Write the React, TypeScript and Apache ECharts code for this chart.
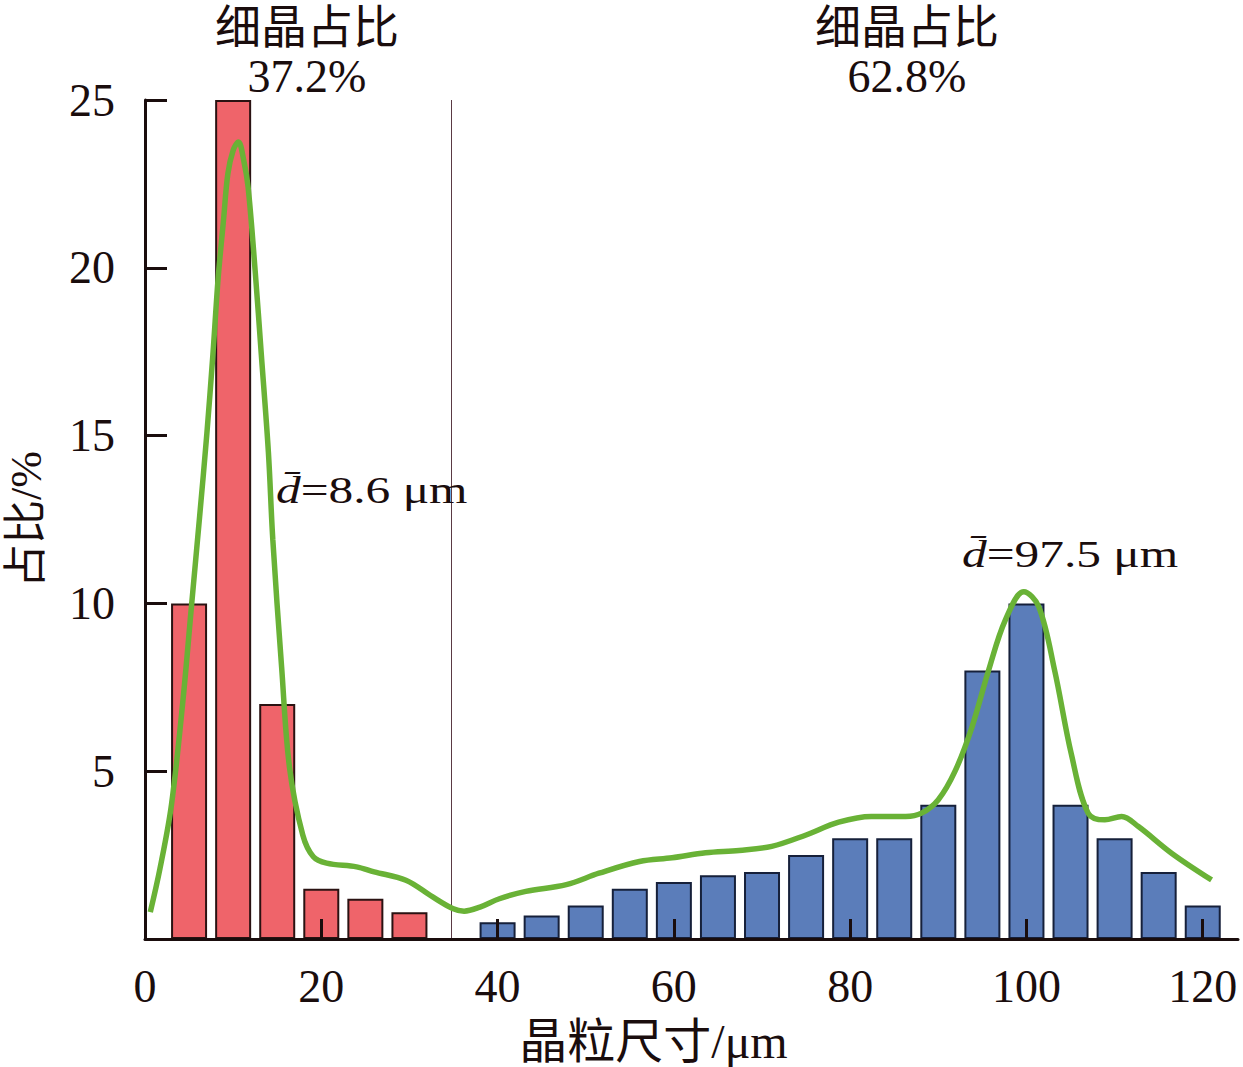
import { useEffect, useRef } from 'react'
import * as echarts from 'echarts'

// 晶粒尺寸分布数据
const fineBins = [5, 10, 15, 20, 25, 30]
const fineShare = [10, 25, 7, 1.5, 1.2, 0.8]
const coarseBins = [40, 45, 50, 55, 60, 65, 70, 75, 80, 85, 90, 95, 100, 105, 110, 115, 120]
const coarseShare = [0.5, 0.7, 1.0, 1.5, 1.7, 1.9, 2.0, 2.5, 3.0, 3.0, 4.0, 8.0, 10.0, 4.0, 3.0, 2.0, 1.0]

// 拟合曲线
const curveX = [
  0.6, 1.7, 3.0, 4.3, 5.3, 6.2, 7.0, 7.7, 8.3, 8.9, 9.4, 10.0, 10.6, 11.2, 11.7, 12.5, 13.2, 14.0,
  14.5, 15.5, 16.4, 17.9, 19.1, 20.6, 24.0, 26.0, 29.6, 32.6, 34.9, 36.2, 38.0, 40.2, 43.2, 47.8,
  51.5, 56.1, 59.8, 63.6, 67.4, 71.1, 75.0, 78.7, 82.4, 86.3, 88.1, 90.0, 91.9, 93.8, 95.7, 97.6,
  99.7, 101.4, 103.2, 105.1, 107.0, 108.9, 110.8, 112.7, 116.5, 121.0,
]
const curveY = [
  0.8, 2.1, 4.0, 7.1, 10.0, 12.6, 15.0, 17.4, 19.7, 21.4, 22.8, 23.5, 23.75, 23.2, 22.4, 19.9, 17.4, 14.5,
  11.9, 8.1, 5.1, 3.1, 2.45, 2.26, 2.15, 2.0, 1.75, 1.26, 0.91, 0.83, 0.95, 1.2, 1.42, 1.62,
  1.96, 2.31, 2.42, 2.57, 2.64, 2.76, 3.1, 3.48, 3.65, 3.65, 3.75, 4.15, 5.0, 6.3, 8.0, 9.5,
  10.35, 9.9, 8.0, 5.5, 3.75, 3.55, 3.65, 3.35, 2.55, 1.76,
]

const xTicks = [0, 20, 40, 60, 80, 100, 120]
const dividerX = 34.7

const fineLabel = ['细晶占比', '37.2%']
const coarseLabel = ['细晶占比', '62.8%']
const fineMean = '{i|d\u0304}=8.6 μm'
const coarseMean = '{i|d\u0304}=97.5 μm'

const FONT = 'Liberation Serif, Times New Roman, Noto Sans CJK SC, serif'
const INK = '#1a0d0d'

export default function App() {
  const chartRef = useRef<HTMLDivElement>(null)

  useEffect(() => {
    if (!chartRef.current) return
    const chart = echarts.init(chartRef.current, undefined, { renderer: 'svg' })

    const textEl = (text: string, x: number, y: number, size = 46) => ({
      type: 'text',
      x,
      y,
      z: 100,
      style: {
        text,
        fill: INK,
        fontSize: size,
        fontFamily: FONT,
        align: 'center',
        verticalAlign: 'middle',
      },
    })

    const meanEl = (text: string, x: number, y: number) => ({
      type: 'text',
      x,
      y,
      scaleX: 1.3,
      z: 100,
      style: {
        text,
        fill: INK,
        fontSize: 38,
        fontFamily: FONT,
        align: 'left',
        verticalAlign: 'middle',
        rich: {
          i: { fontStyle: 'italic', fontSize: 38, fontFamily: FONT, fill: INK },
        },
      },
    })

    chart.setOption({
      animation: false,
      backgroundColor: '#fff',
      grid: { left: 145, top: 100, right: 5, bottom: 128, outerBoundsMode: 'none' },
      xAxis: {
        type: 'value',
        min: 0,
        max: 124,
        z: 10,
        name: '晶粒尺寸/μm',
        nameLocation: 'middle',
        nameGap: 78,
        nameTextStyle: { fontSize: 48, fontFamily: FONT, color: INK, padding: [0, 76, 0, 0] },
        axisLine: { lineStyle: { color: INK, width: 3 } },
        axisTick: {
          inside: true,
          length: 20,
          customValues: xTicks.slice(1),
          lineStyle: { color: INK, width: 3 },
        },
        axisLabel: {
          customValues: xTicks,
          fontSize: 46,
          fontFamily: FONT,
          color: INK,
          margin: 24,
        },
        splitLine: { show: false },
      },
      yAxis: {
        type: 'value',
        min: 0,
        max: 25,
        interval: 5,
        name: '占比/%',
        nameLocation: 'middle',
        nameRotate: 90,
        nameGap: 97,
        nameTextStyle: { fontSize: 44, fontFamily: FONT, color: INK },
        axisLine: { show: true, lineStyle: { color: INK, width: 3 } },
        axisTick: { show: true, inside: true, length: 22, lineStyle: { color: INK, width: 3 } },
        axisLabel: {
          fontSize: 46,
          fontFamily: FONT,
          color: INK,
          margin: 30,
          formatter: (v: number) => (v === 0 ? '' : String(v)),
        },
        splitLine: { show: false },
      },
      series: [
        {
          name: 'fine',
          type: 'bar',
          barWidth: 36,
          barGap: '-100%',
          data: fineBins.map((b, i) => [b, fineShare[i]]),
          itemStyle: { color: '#ef646a', borderColor: '#2a1212', borderWidth: 2 },
          markLine: {
            silent: true,
            symbol: 'none',
            label: { show: false },
            lineStyle: { color: '#5a3a44', width: 1, type: 'solid' },
            data: [{ xAxis: dividerX }],
          },
        },
        {
          name: 'coarse',
          type: 'bar',
          barWidth: 36,
          barGap: '-100%',
          data: coarseBins.map((b, i) => [b, coarseShare[i]]),
          itemStyle: { color: '#5b7dba', borderColor: '#16203a', borderWidth: 2 },
        },
        {
          name: 'fit',
          type: 'line',
          smooth: 0.35,
          symbol: 'none',
          z: 5,
          data: curveX.map((x, i) => [x, curveY[i]]),
          lineStyle: { color: '#69b236', width: 5.5 },
        },
      ],
      graphic: [
        textEl(fineLabel[0], 307, 27),
        textEl(fineLabel[1], 307, 76),
        textEl(coarseLabel[0], 907, 27),
        textEl(coarseLabel[1], 907, 76),
        meanEl(fineMean, 276, 490),
        meanEl(coarseMean, 962, 554),
      ],
    })

    return () => {
      chart.dispose()
    }
  }, [])

  return (
    <div
      ref={chartRef}
      style={{ position: 'fixed', left: 0, top: 0, width: 1243, height: 1067, background: '#fff' }}
    />
  )
}
